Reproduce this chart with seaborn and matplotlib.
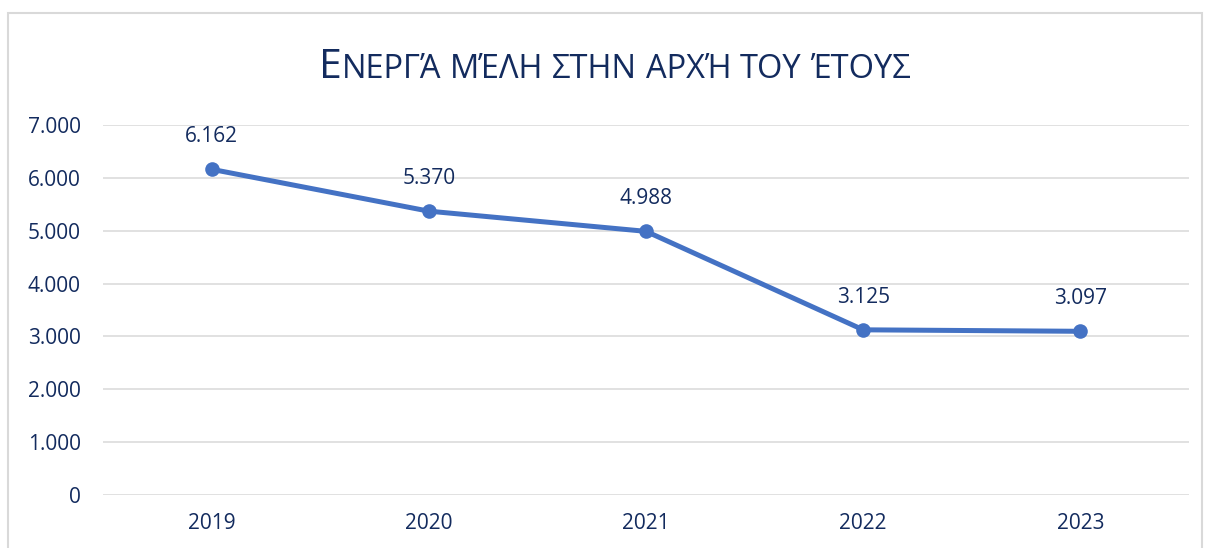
import matplotlib
matplotlib.use("Agg")
import matplotlib.pyplot as plt
import matplotlib.patches as patches
import seaborn as sns
import pandas as pd

# Chart data
years = ["2019", "2020", "2021", "2022", "2023"]
members = [6162, 5370, 4988, 3125, 3097]
y_ticks = [0, 1000, 2000, 3000, 4000, 5000, 6000, 7000]

# Title drawn in small caps: (text, is_capital)
title_parts = [
    ("Ε", True), ("ΝΕΡΓΆ", False), (" ", False),
    ("ΜΈΛΗ", False), (" ", False),
    ("ΣΤΗΝ", False), (" ", False),
    ("ΑΡΧΉ", False), (" ", False),
    ("ΤΟΥ", False), (" ", False),
    ("ΈΤΟΥΣ", False),
]

sns.set_theme(style="white")
plt.rcParams['font.family'] = ['Open Sans', 'DejaVu Sans']

navy = "#132B5E"
line_blue = "#4472C4"
grid_gray = "#D9D9D9"

df = pd.DataFrame({"year": years, "members": members})

fig = plt.figure(figsize=(12.06, 5.48), dpi=100)
W, H = 1206, 548

# outer chart border
fig.patches.append(patches.Rectangle((8 / W, -0.05), (1202 - 8) / W, 1 - 13 / H + 0.05,
                                     transform=fig.transFigure, fill=False,
                                     edgecolor="#D9D9D9", linewidth=1.5))

ax = fig.add_axes([103 / W, 1 - 495 / H, (1189 - 103) / W, (495 - 125) / H])

sns.lineplot(data=df, x="year", y="members", ax=ax, color=line_blue,
             linewidth=3.6, marker="o", markersize=10.5, markeredgewidth=0,
             sort=False)

for i, v in enumerate(members):
    ax.annotate(f"{v:,}".replace(",", "."), (i, v), xytext=(0, 16),
                textcoords="offset points", ha="center", va="bottom",
                fontsize=15, color=navy)

ax.set_xlim(-0.5, len(years) - 0.5)
ax.set_ylim(0, 7000)
ax.set_yticks(y_ticks)
ax.set_yticklabels([f"{t:,}".replace(",", ".") for t in y_ticks])
ax.yaxis.grid(True, color=grid_gray, linewidth=1.1)
ax.xaxis.grid(False)
ax.set_axisbelow(True)
for s in ax.spines.values():
    s.set_visible(False)
ax.tick_params(axis="y", length=0, pad=16, labelsize=15, labelcolor=navy)
ax.tick_params(axis="x", length=0, pad=13, labelsize=15, labelcolor=navy)
ax.set_xlabel("")
ax.set_ylabel("")

# small caps title
big, small = 29.5, 23.5
fig.canvas.draw()
r = fig.canvas.get_renderer()
texts = []
widths = []
for txt, cap in title_parts:
    if txt == " ":
        t = fig.text(0, 0, "Α Α", fontsize=small, color=navy)
        w1 = t.get_window_extent(r).width
        t.set_text("ΑΑ")
        w2 = t.get_window_extent(r).width
        t.remove()
        texts.append(None)
        widths.append(w1 - w2)
        continue
    t = fig.text(0, 1 - 78 / H, txt, fontsize=big if cap else small,
                 color=navy, va="baseline", ha="left")
    texts.append(t)
    widths.append(t.get_window_extent(r).width)

total = sum(widths)
x = 615 - total / 2
for t, w in zip(texts, widths):
    if t is not None:
        t.set_x(x / W)
    x += w

fig.savefig("out.png", dpi=100)
